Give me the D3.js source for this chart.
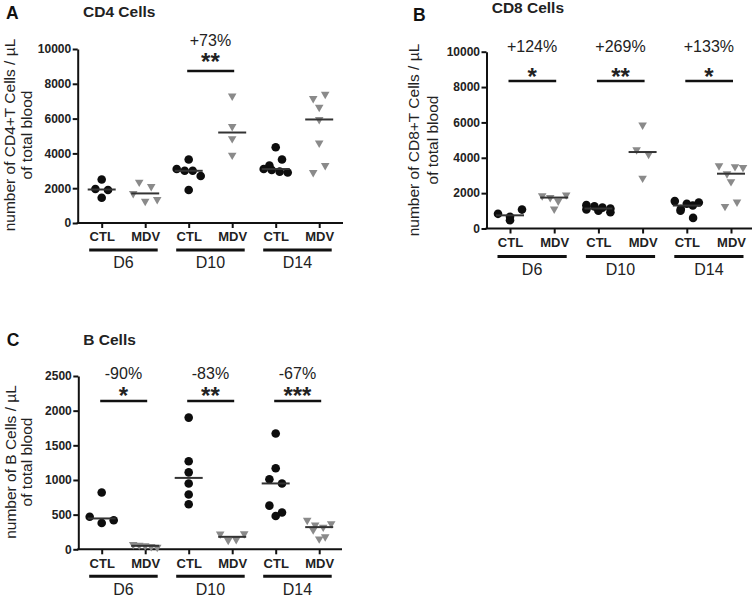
<!DOCTYPE html>
<html><head><meta charset="utf-8">
<script src="https://cdn.jsdelivr.net/npm/d3@7"></script>
<style>html,body{margin:0;padding:0;background:#fff;} svg{display:block;}</style>
</head><body><svg id="chart" width="756" height="597"></svg>
<script>
// ---------------- DATA ----------------
const days = ["D6", "D10", "D14"];
const conditions = ["CTL", "MDV"];

const cd4Ticks = [0, 2000, 4000, 6000, 8000, 10000];
const cd4CTL = [[2500, 1950, 1900, 1450], [3650, 3100, 3000, 3000, 2700, 1900], [4350, 3300, 3650, 3100, 3050, 2950, 2900]];
const cd4MDV = [[2350, 2100, 1700, 1250, 1350], [7300, 5550, 4850, 3900], [7150, 7400, 6650, 5950, 4600, 2900, 3300]];
const cd4Pct = [null, "+73%", null];
const cd4Stars = [null, "**", null];

const cd8Ticks = [0, 2000, 4000, 6000, 8000, 10000];
const cd8CTL = [[830, 470, 660, 1070], [1320, 1080, 1250, 1000, 1180, 920, 1130], [1550, 1100, 1400, 1300, 1470, 1000, 600]];
const cd8MDV = [[1850, 1100, 1750, 1550, 1900], [5850, 4450, 4200, 2850], [3550, 3100, 3500, 3450, 2650, 1250, 1500]];
const cd8Pct = ["+124%", "+269%", "+133%"];
const cd8Stars = ["*", "**", "*"];

const bTicks = [0, 500, 1000, 1500, 2000, 2500];
const bCTL = [[820, 470, 380, 420], [1900, 1270, 1110, 950, 790, 650], [1670, 1170, 1010, 950, 630, 530, 480]];
const bMDV = [[70, 60, 50, 40, 30], [220, 130, 140, 225], [420, 350, 320, 370, 280, 150, 180]];
const bPct = ["-90%", "-83%", "-67%"];
const bStars = ["*", "**", "***"];

// ---------------- LAYOUT ----------------
const FONT = "'Liberation Sans', Arial, Helvetica, sans-serif";
const panels = [
  { letter: "A", title: "CD4 Cells", ylab: ["number of CD4+T Cells / µL", "of total blood"],
    ctl: cd4CTL, mdv: cd4MDV, ticks: cd4Ticks, pct: cd4Pct, stars: cd4Stars,
    L: { letterX: 6, letterY: 19.3, titleX: 83, titleY: 16.7, axisX: 77.7, yBottom: 223, yTop: 49,
         cat0: 101.7, step: 43.5, axisEnd: 343, ylabX: [15, 31.5], ylabY: 135,
         pctY: 46, starTop: 53.3, sigY: 71, catDy: 17.5, ulDy: 27, grpDy: 44.5 } },
  { letter: "B", title: "CD8 Cells", ylab: ["number of CD8+T Cells / µL", "of total blood"],
    ctl: cd8CTL, mdv: cd8MDV, ticks: cd8Ticks, pct: cd8Pct, stars: cd8Stars,
    L: { letterX: 413, letterY: 20.7, titleX: 491.7, titleY: 13.3, axisX: 486.5, yBottom: 228.5, yTop: 51.7,
         cat0: 510, step: 44.2, axisEnd: 752, ylabX: [418.5, 438], ylabY: 140,
         pctY: 51.7, starTop: 68.3, sigY: 81, catDy: 18.5, ulDy: 28, grpDy: 46.5 } },
  { letter: "C", title: "B Cells", ylab: ["number of B Cells / µL", "of total blood"],
    ctl: bCTL, mdv: bMDV, ticks: bTicks, pct: bPct, stars: bStars,
    L: { letterX: 6.7, letterY: 346, titleX: 83.3, titleY: 345, axisX: 78.3, yBottom: 549.3, yTop: 376,
         cat0: 101.7, step: 43.5, axisEnd: 342, ylabX: [16, 31.5], ylabY: 462,
         pctY: 379.3, starTop: 386.7, sigY: 401, catDy: 19, ulDy: 27, grpDy: 45.5 } }
];

const svg = d3.select("#chart");
svg.append("rect").attr("width", 756).attr("height", 597).attr("fill", "#fff");

// row-based column scatter layout
function swarm(values, y, diam, maxW) {
  const items = values.map((v, i) => ({ v, i, py: y(v), dx: 0 }));
  const sorted = items.slice().sort((a, b) => a.py - b.py);
  let rows = [];
  sorted.forEach(it => {
    const last = rows[rows.length - 1];
    if (last && it.py - last[0].py < diam) last.push(it); else rows.push([it]);
  });
  // split crowded rows into two staggered sub-rows
  const out = [];
  rows.forEach(row => {
    if (row.length > 5) {
      const h = Math.ceil(row.length / 2);
      out.push(row.slice(0, h), row.slice(h));
    } else out.push(row);
  });
  out.forEach((row, r) => {
    row.sort((a, b) => a.i - b.i);
    const n = row.length;
    const sp = n > 1 ? Math.min(diam * 1.5, maxW / (n - 1)) : 0;
    row.forEach((it, k) => it.dx = (k - (n - 1) / 2) * sp);
  });
  return items;
}

panels.forEach(p => {
  const L = p.L;
  const g = svg.append("g").attr("font-family", FONT);
  const keys = [];
  days.forEach(d => conditions.forEach(c => keys.push(d + "|" + c)));
  const x = d3.scalePoint().domain(keys).range([L.cat0, L.cat0 + L.step * (keys.length - 1)]);
  const y = d3.scaleLinear().domain([0, d3.max(p.ticks)]).range([L.yBottom, L.yTop]);

  // panel letter + title
  g.append("text").attr("x", L.letterX).attr("y", L.letterY).text(p.letter)
    .attr("font-size", 17.5).attr("font-weight", "bold").attr("fill", "#111");
  g.append("text").attr("x", L.titleX).attr("y", L.titleY).text(p.title)
    .attr("font-size", 15.5).attr("font-weight", "bold").attr("fill", "#222");

  // y axis
  const yAxis = g.append("g").attr("transform", `translate(${L.axisX},0)`)
    .call(d3.axisLeft(y).tickValues(p.ticks).tickSize(5).tickSizeOuter(0).tickPadding(1.5).tickFormat(d3.format("d")));
  yAxis.select(".domain").attr("stroke", "#111").attr("stroke-width", 2);
  yAxis.selectAll(".tick line").attr("stroke", "#111").attr("stroke-width", 2);
  yAxis.selectAll(".tick text").attr("font-family", FONT).attr("font-size", 12).attr("font-weight", "bold").attr("fill", "#222");

  // x axis
  g.append("line").attr("x1", L.axisX - 1).attr("x2", L.axisEnd).attr("y1", L.yBottom).attr("y2", L.yBottom)
    .attr("stroke", "#111").attr("stroke-width", 2);
  const xAxis = g.append("g").attr("transform", `translate(0,${L.yBottom})`)
    .call(d3.axisBottom(x).tickSize(5).tickSizeOuter(0).tickFormat(k => k.split("|")[1]));
  xAxis.select(".domain").remove();
  xAxis.selectAll(".tick line").attr("stroke", "#111").attr("stroke-width", 2);
  xAxis.selectAll(".tick text").attr("font-family", FONT).attr("font-size", 13).attr("font-weight", "bold")
    .attr("fill", "#222").attr("dy", null).attr("y", L.catDy);

  // group underlines + labels
  days.forEach(d => {
    const xc = x(d + "|CTL"), xm = x(d + "|MDV");
    g.append("line").attr("x1", xc - 12.5).attr("x2", xm + 12.5)
      .attr("y1", L.yBottom + L.ulDy).attr("y2", L.yBottom + L.ulDy)
      .attr("stroke", "#111").attr("stroke-width", 3);
    g.append("text").attr("x", (xc + xm) / 2).attr("y", L.yBottom + L.grpDy).text(d)
      .attr("text-anchor", "middle").attr("font-size", 16).attr("fill", "#222");
  });

  // y label
  const yl = g.append("g");
  p.ylab.forEach((t, i) => {
    yl.append("text").attr("transform", `translate(${L.ylabX[i]},${L.ylabY}) rotate(-90)`)
      .attr("text-anchor", "middle").attr("font-size", 15.5).attr("fill", "#222").text(t);
  });

  // data points
  days.forEach((d, di) => {
    const ctlItems = swarm(p.ctl[di], y, 8.4, 24);
    const mdvItems = swarm(p.mdv[di], y, 8.0, 24);
    const xc = x(d + "|CTL"), xm = x(d + "|MDV");
    g.append("g").selectAll("circle").data(ctlItems).join("circle")
      .attr("cx", it => xc + it.dx).attr("cy", it => it.py).attr("r", 4.3).attr("fill", "#0d0d0d");
    const tri = d3.symbol().type(d3.symbolTriangle).size(32);
    g.append("g").selectAll("path").data(mdvItems).join("path")
      .attr("d", tri).attr("transform", it => `translate(${xm + it.dx},${it.py}) rotate(180)`)
      .attr("fill", "#8a8a8a");
    // median lines
    [[xc, d3.median(p.ctl[di])], [xm, d3.median(p.mdv[di])]].forEach(([cx, m]) => {
      g.append("line").attr("x1", cx - 14).attr("x2", cx + 14).attr("y1", y(m)).attr("y2", y(m))
        .attr("stroke", "#333").attr("stroke-width", 2);
    });
    // annotations
    if (p.pct[di]) {
      g.append("text").attr("x", (xc + xm) / 2).attr("y", L.pctY).text(p.pct[di])
        .attr("text-anchor", "middle").attr("font-size", 16).attr("fill", "#222");
    }
    if (p.stars[di]) {
      g.append("text").attr("x", (xc + xm) / 2).attr("y", L.starTop + 17).text(p.stars[di])
        .attr("text-anchor", "middle").attr("font-size", 24).attr("font-weight", "bold").attr("fill", "#222");
      g.append("line").attr("x1", xc - 1.5).attr("x2", xm + 2).attr("y1", L.sigY).attr("y2", L.sigY)
        .attr("stroke", "#111").attr("stroke-width", 2.5);
    }
  });
});
</script>
</body></html>
